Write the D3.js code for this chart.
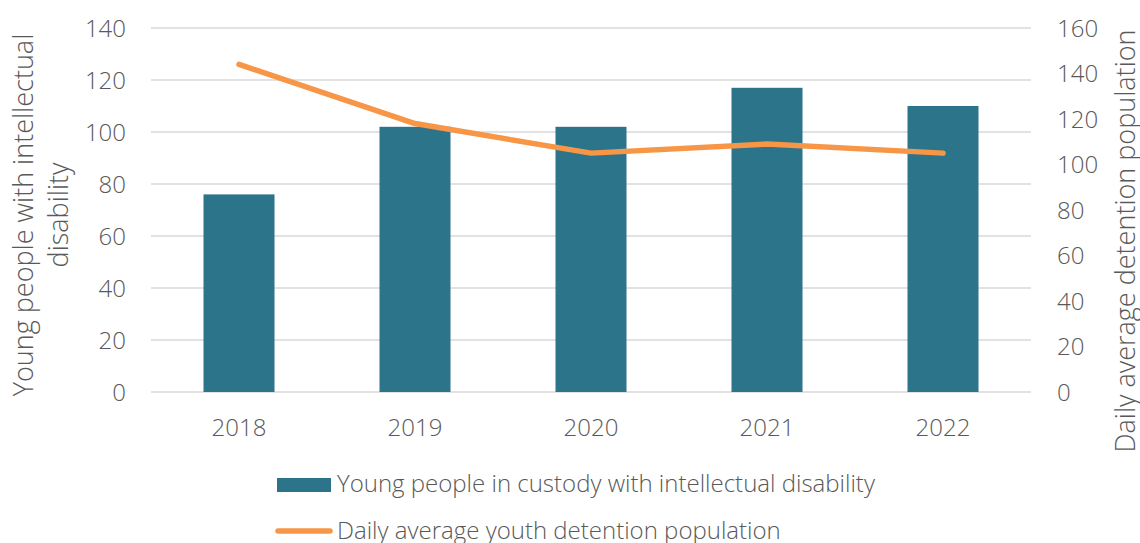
<!DOCTYPE html>
<html><head><meta charset="utf-8">
<script src="https://cdn.jsdelivr.net/npm/d3@7"></script>
<style>
html,body{margin:0;padding:0;background:#fff;}
text{font-family:"Open Sans",sans-serif;font-weight:300;fill:#595959;}
</style></head>
<body><svg id="c" width="1140" height="543"></svg>
<script>
const years = ["2018","2019","2020","2021","2022"];
const custodyValues = [76,102,102,117,110];
const detentionValues = [144,118,105,109,105];
const leftTicks = [0,20,40,60,80,100,120,140];
const rightTicks = [0,20,40,60,80,100,120,140,160];
const barName = "Young people in custody with intellectual disability";
const lineName = "Daily average youth detention population";
const leftTitle = ["Young people with intellectual","disability"];
const rightTitle = "Daily average detention population";

const svg = d3.select("#c");
const m = {l:151, r:1031, t:28, b:392};
const xc = d3.scaleBand().domain(years).range([m.l, m.r]);
const yL = d3.scaleLinear().domain([0,140]).range([m.b, m.t]);
const yR = d3.scaleLinear().domain([0,160]).range([m.b, m.t]);

// gridlines
svg.append("g").selectAll("line").data(leftTicks).join("line")
  .attr("x1", m.l).attr("x2", m.r)
  .attr("y1", d=>yL(d)).attr("y2", d=>yL(d))
  .attr("stroke", "#d9d9d9").attr("stroke-width", 1.5);

// bars
const bw = 71;
svg.append("g").selectAll("rect").data(years).join("rect")
  .attr("x", (d)=>xc(d)+xc.bandwidth()/2 - bw/2)
  .attr("width", bw)
  .attr("y", (d,i)=>yL(custodyValues[i]))
  .attr("height", (d,i)=>yL(0)-yL(custodyValues[i]))
  .attr("fill", "#2C7489");

// line
const line = d3.line().x((d,i)=>xc(years[i])+xc.bandwidth()/2).y(d=>yR(d));
svg.append("path").datum(detentionValues).attr("d", line)
  .attr("fill","none").attr("stroke","#F79646").attr("stroke-width",5.5)
  .attr("stroke-linecap","round").attr("stroke-linejoin","round");

// left axis
const axL = d3.axisLeft(yL).tickValues(leftTicks).tickSize(0).tickPadding(0);
const gL = svg.append("g").attr("transform", "translate(126,0)").call(axL);
gL.select(".domain").remove();
gL.selectAll("text").attr("font-size", 24).attr("dy","0.35em").attr("fill","#595959");

// right axis
const axR = d3.axisRight(yR).tickValues(rightTicks).tickSize(0).tickPadding(0);
const gR = svg.append("g").attr("transform", "translate(1057,0)").call(axR);
gR.select(".domain").remove();
gR.selectAll("text").attr("font-size", 24).attr("dy","0.35em").attr("fill","#595959");

// x axis
const axX = d3.axisBottom(xc).tickSize(0).tickPadding(0);
const gX = svg.append("g").attr("transform", "translate(0,428)").call(axX);
gX.select(".domain").remove();
gX.selectAll("text").attr("font-size", 24).attr("dy","0.35em").attr("fill","#595959");

// left title
const lt = svg.append("text").attr("transform","translate(33,215) rotate(-90)")
  .attr("text-anchor","middle").attr("font-size",27);
lt.selectAll("tspan").data(leftTitle).join("tspan")
  .attr("x",0).attr("dy",(d,i)=>i===0?0:"1.3em").text(d=>d);

// right title
svg.append("text").attr("transform","translate(1135,241) rotate(-90)")
  .attr("text-anchor","middle").attr("font-size",27).text(rightTitle);

// legend
svg.append("rect").attr("x",277).attr("y",478).attr("width",54).attr("height",14).attr("fill","#2C7489");
svg.append("text").attr("x",337).attr("y",492).attr("font-size",24).text(barName);
svg.append("line").attr("x1",278).attr("x2",330).attr("y1",531).attr("y2",531)
  .attr("stroke","#F79646").attr("stroke-width",5.5).attr("stroke-linecap","round");
svg.append("text").attr("x",337).attr("y",539).attr("font-size",24).text(lineName);
</script></body></html>
